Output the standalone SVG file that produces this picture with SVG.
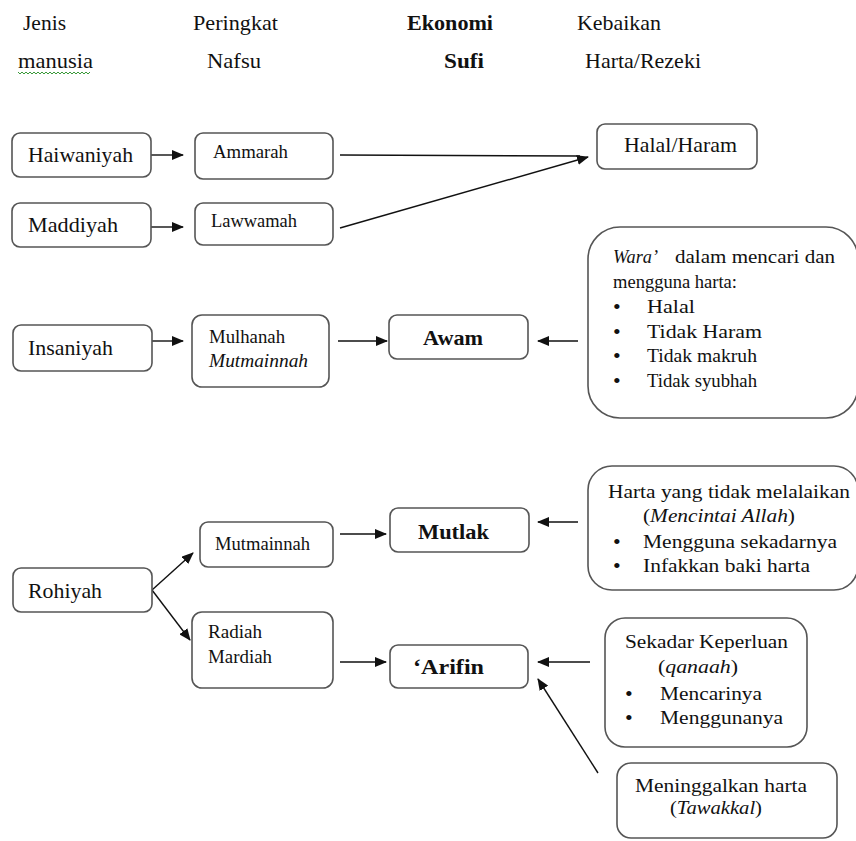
<svg xmlns="http://www.w3.org/2000/svg" width="856" height="841" viewBox="0 0 856 841">
<style>
text{font-family:"Liberation Serif","Times New Roman",serif;fill:#111}
.h{font-size:22px}
.b{font-weight:bold}
.l{font-size:21px}
.s{font-size:18px}
.m{font-size:18px}
.i{font-style:italic}
.dot{font-size:22px}
.box{fill:#fff;stroke:#555;stroke-width:1.6}
.c{stroke:#111;stroke-width:1.4;fill:none}
</style>
<defs>
<marker id="ah" markerUnits="userSpaceOnUse" markerWidth="12" markerHeight="10" refX="11" refY="5" orient="auto">
<path d="M0,0 L12,5 L0,10 z" fill="#111"/>
</marker>
</defs>
<g id="header">
<text class="h" x="23" y="30" textLength="43" lengthAdjust="spacingAndGlyphs">Jenis</text>
<text class="h" x="193" y="30" textLength="85" lengthAdjust="spacingAndGlyphs">Peringkat</text>
<text class="h b" x="407" y="30" textLength="86" lengthAdjust="spacingAndGlyphs">Ekonomi</text>
<text class="h" x="577" y="30" textLength="84" lengthAdjust="spacingAndGlyphs">Kebaikan</text>
<text class="h" x="18" y="68" textLength="75" lengthAdjust="spacingAndGlyphs">manusia</text>
<path d="M18,72 l2,2 l2,-2 l2,2 l2,-2 l2,2 l2,-2 l2,2 l2,-2 l2,2 l2,-2 l2,2 l2,-2 l2,2 l2,-2 l2,2 l2,-2 l2,2 l2,-2 l2,2 l2,-2 l2,2 l2,-2 l2,2 l2,-2 l2,2 l2,-2 l2,2 l2,-2 l2,2 l2,-2 l2,2 l2,-2 l2,2 l2,-2 l2,2 l2,-2" fill="none" stroke="#3a9a3a" stroke-width="1"/>
<text class="h" x="207" y="68" textLength="54" lengthAdjust="spacingAndGlyphs">Nafsu</text>
<text class="h b" x="444" y="68" textLength="40" lengthAdjust="spacingAndGlyphs">Sufi</text>
<text class="h" x="585" y="68" textLength="116" lengthAdjust="spacingAndGlyphs">Harta/Rezeki</text>
</g>
<g id="connectors">
<line class="c" x1="151" y1="155" x2="183" y2="155" marker-end="url(#ah)"/>
<line class="c" x1="151" y1="227" x2="183" y2="227" marker-end="url(#ah)"/>
<line class="c" x1="340" y1="155" x2="580" y2="156"/>
<line class="c" x1="340" y1="228" x2="588" y2="157" marker-end="url(#ah)"/>
<line class="c" x1="152" y1="341" x2="183" y2="341" marker-end="url(#ah)"/>
<line class="c" x1="338" y1="341" x2="387" y2="341" marker-end="url(#ah)"/>
<line class="c" x1="578" y1="341" x2="538" y2="341" marker-end="url(#ah)"/>
<line class="c" x1="152" y1="590" x2="193" y2="553" marker-end="url(#ah)"/>
<line class="c" x1="152" y1="590" x2="190" y2="640" marker-end="url(#ah)"/>
<line class="c" x1="340" y1="534" x2="386" y2="534" marker-end="url(#ah)"/>
<line class="c" x1="578" y1="522" x2="538" y2="522" marker-end="url(#ah)"/>
<line class="c" x1="340" y1="662" x2="386" y2="662" marker-end="url(#ah)"/>
<line class="c" x1="590" y1="662" x2="538" y2="662" marker-end="url(#ah)"/>
<line class="c" x1="598" y1="773" x2="538" y2="679" marker-end="url(#ah)"/>
</g>
<g id="haiwaniyah"><rect class="box" x="12" y="133" width="139" height="44" rx="8"/><text class="l" x="28" y="162" textLength="105" lengthAdjust="spacingAndGlyphs">Haiwaniyah</text></g>
<g id="ammarah"><rect class="box" x="195" y="133" width="138" height="46" rx="8"/><text class="s" x="213" y="158" textLength="75" lengthAdjust="spacingAndGlyphs">Ammarah</text></g>
<g id="halal-haram"><rect class="box" x="597" y="124" width="160" height="45" rx="8"/><text class="l" x="624" y="152" textLength="113" lengthAdjust="spacingAndGlyphs">Halal/Haram</text></g>
<g id="maddiyah"><rect class="box" x="12" y="203" width="139" height="44" rx="8"/><text class="l" x="28" y="232" textLength="90" lengthAdjust="spacingAndGlyphs">Maddiyah</text></g>
<g id="lawwamah"><rect class="box" x="195" y="203" width="138" height="42" rx="8"/><text class="s" x="211" y="227" textLength="86" lengthAdjust="spacingAndGlyphs">Lawwamah</text></g>
<g id="wara"><rect class="box" x="588" y="227" width="270" height="191" rx="32"/>
<text class="m i" x="613" y="263" textLength="45" lengthAdjust="spacingAndGlyphs">Wara’</text>
<text class="m" x="675" y="263" textLength="160" lengthAdjust="spacingAndGlyphs">dalam mencari dan</text>
<text class="m" x="613" y="288" textLength="124" lengthAdjust="spacingAndGlyphs">mengguna harta:</text>
<text class="dot" x="613" y="314">•</text><text class="m" x="647" y="313" textLength="48" lengthAdjust="spacingAndGlyphs">Halal</text>
<text class="dot" x="613" y="339">•</text><text class="m" x="647" y="338" textLength="115" lengthAdjust="spacingAndGlyphs">Tidak Haram</text>
<text class="dot" x="613" y="363">•</text><text class="m" x="647" y="362" textLength="110" lengthAdjust="spacingAndGlyphs">Tidak makruh</text>
<text class="dot" x="613" y="388">•</text><text class="m" x="647" y="387" textLength="110" lengthAdjust="spacingAndGlyphs">Tidak syubhah</text>
</g>
<g id="insaniyah"><rect class="box" x="13" y="325" width="139" height="46" rx="8"/><text class="l" x="28" y="355" textLength="85" lengthAdjust="spacingAndGlyphs">Insaniyah</text></g>
<g id="mulhanah"><rect class="box" x="192" y="315" width="137" height="72" rx="10"/><text class="s" x="209" y="343" textLength="76" lengthAdjust="spacingAndGlyphs">Mulhanah</text><text class="s i" x="209" y="367" textLength="99" lengthAdjust="spacingAndGlyphs">Mutmainnah</text></g>
<g id="awam"><rect class="box" x="389" y="315" width="139" height="44" rx="8"/><text class="l b" x="423" y="345" textLength="60" lengthAdjust="spacingAndGlyphs">Awam</text></g>
<g id="mutlak-harta"><rect class="box" x="588" y="466" width="270" height="124" rx="24"/>
<text class="m" x="608" y="498" textLength="242" lengthAdjust="spacingAndGlyphs">Harta yang tidak melalaikan</text>
<text class="m" x="643" y="522" textLength="152" lengthAdjust="spacingAndGlyphs">(<tspan class="i">Mencintai Allah</tspan>)</text>
<text class="dot" x="613" y="549">•</text><text class="m" x="643" y="548" textLength="194" lengthAdjust="spacingAndGlyphs">Mengguna sekadarnya</text>
<text class="dot" x="613" y="573">•</text><text class="m" x="643" y="572" textLength="167" lengthAdjust="spacingAndGlyphs">Infakkan baki harta</text>
</g>
<g id="mutmainnah"><rect class="box" x="200" y="522" width="133" height="45" rx="8"/><text class="s" x="215" y="550" textLength="95" lengthAdjust="spacingAndGlyphs">Mutmainnah</text></g>
<g id="mutlak"><rect class="box" x="390" y="508" width="139" height="44" rx="8"/><text class="l b" x="418" y="539" textLength="71" lengthAdjust="spacingAndGlyphs">Mutlak</text></g>
<g id="rohiyah"><rect class="box" x="13" y="568" width="139" height="44" rx="8"/><text class="l" x="28" y="598" textLength="74" lengthAdjust="spacingAndGlyphs">Rohiyah</text></g>
<g id="radiah"><rect class="box" x="192" y="612" width="141" height="76" rx="10"/><text class="s" x="208" y="638" textLength="54" lengthAdjust="spacingAndGlyphs">Radiah</text><text class="s" x="208" y="663" textLength="64" lengthAdjust="spacingAndGlyphs">Mardiah</text></g>
<g id="arifin"><rect class="box" x="390" y="645" width="138" height="43" rx="8"/><text class="l b" x="413" y="674" textLength="71" lengthAdjust="spacingAndGlyphs">‘Arifin</text></g>
<g id="sekadar"><rect class="box" x="605" y="618" width="202" height="129" rx="20"/>
<text class="m" x="625" y="648" textLength="163" lengthAdjust="spacingAndGlyphs">Sekadar Keperluan</text>
<text class="m" x="658" y="673" textLength="80" lengthAdjust="spacingAndGlyphs">(<tspan class="i">qanaah</tspan>)</text>
<text class="dot" x="625" y="701">•</text><text class="m" x="660" y="700" textLength="102" lengthAdjust="spacingAndGlyphs">Mencarinya</text>
<text class="dot" x="625" y="725">•</text><text class="m" x="660" y="724" textLength="123" lengthAdjust="spacingAndGlyphs">Menggunanya</text>
</g>
<g id="meninggalkan"><rect class="box" x="617" y="763" width="220" height="75" rx="14"/>
<text class="m" x="635" y="792" textLength="172" lengthAdjust="spacingAndGlyphs">Meninggalkan harta</text>
<text class="m" x="670" y="814" textLength="92" lengthAdjust="spacingAndGlyphs">(<tspan class="i">Tawakkal</tspan>)</text>
</g>
</svg>
